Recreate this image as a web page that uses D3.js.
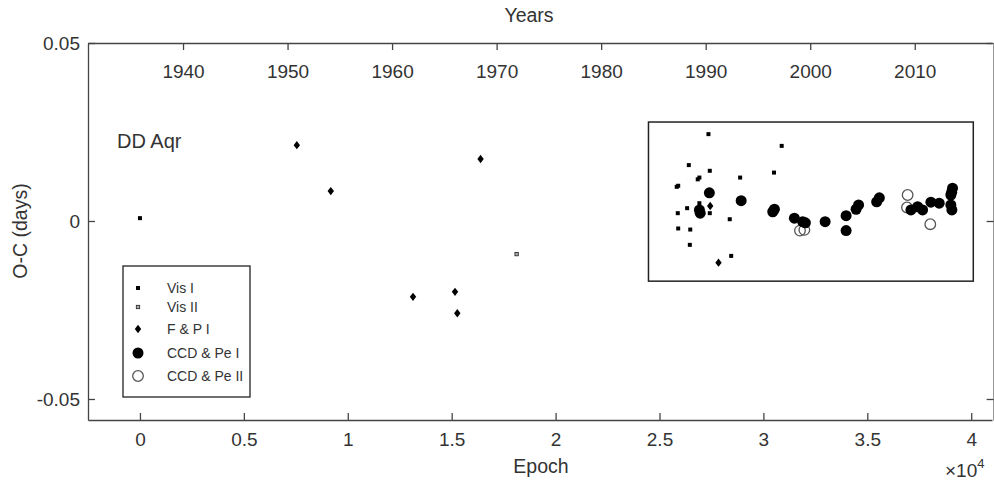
<!DOCTYPE html>
<html>
<head>
<meta charset="utf-8">
<title>DD Aqr O-C diagram</title>
<script src="https://d3js.org/d3.v7.min.js"></script>
<style>
  body { margin: 0; background: #fff; }
  svg text { font-family: "Liberation Sans", Arial, sans-serif; fill: #333; }
  .axis path, .axis line { stroke: #444; stroke-width: 1.3; }
</style>
</head>
<body>
<script>
// [epoch, O-C in days]
var visI = [
  [0, 0.0008], [27356, 0.0244], [30880, 0.0211], [26410, 0.0157], [27420, 0.0141],
  [30510, 0.0136], [28880, 0.0122], [25830, 0.0096], [25900, 0.0099], [26840, 0.0117],
  [26920, 0.0122], [26330, 0.0036], [25880, 0.0022], [26920, 0.0050], [27420, 0.0022],
  [28380, 0.0005], [25900, -0.0021], [26480, -0.0024], [26460, -0.0067], [28450, -0.0098]
]
var visII = [
  [18125, -0.0093]
]
var fpI = [
  [7548, 0.0213], [9183, 0.0084], [13140, -0.0213], [15160, -0.0199],
  [15270, -0.0259], [16390, 0.0174], [27840, -0.0117], [27440, 0.0042]
]
var ccdI = [
  [27400, 0.0079], [28930, 0.0057], [26920, 0.0031], [26960, 0.0022], [30450, 0.0026],
  [30530, 0.0033], [31490, 0.0008], [31890, -0.0002], [32020, -0.0005], [32970, -0.0002],
  [33980, 0.0015], [33980, -0.0027], [34460, 0.0033], [34580, 0.0045], [35450, 0.0054],
  [35580, 0.0065], [37100, 0.0031], [37420, 0.0040], [37660, 0.0031], [38060, 0.0053],
  [38460, 0.0050], [39020, 0.0045], [39020, 0.0073], [39100, 0.0092], [39070, 0.0031],
  [39060, 0.0081]
]
var ccdII = [
  [31760, -0.0027], [31970, -0.0025], [36940, 0.0073], [36910, 0.0038], [38030, -0.0009]
]
var epochTicks = [0, 5000, 10000, 15000, 20000, 25000, 30000, 35000, 40000]
var yearTicks = [1940, 1950, 1960, 1970, 1980, 1990, 2000, 2010]
var ocTicks = [-0.05, 0, 0.05]
var legendNames = ['Vis I', 'Vis II', 'F & P I', 'CCD & Pe I', 'CCD & Pe II']
// recent-data box, in epoch / O-C units
var boxEpoch = [24470, 40100]
var boxOC = [-0.0169, 0.0278]

var W = 994, H = 481
var plotL = 88, plotR = 992, plotT = 43, plotB = 420

var svg = d3.select('body').append('svg')
    .attr('width', W)
    .attr('height', H)

var x = d3.scaleLinear().domain([-2500, 41000]).range([plotL, plotR])
var y = d3.scaleLinear().domain([-0.0559, 0.05]).range([plotB, plotT])
var xYear = d3.scaleLinear().domain([1930.91, 2017.39]).range([plotL, plotR])

// axes
svg.append('g')
    .attr('class', 'axis')
    .attr('transform', 'translate(0,' + plotB + ')')
    .call(d3.axisBottom(x).tickValues(epochTicks)
        .tickFormat(function (d) { return String(d / 10000) })
        .tickSizeInner(-7).tickSizeOuter(0).tickPadding(13))
    .selectAll('text').style('font-size', '19px')

svg.append('g')
    .attr('class', 'axis')
    .attr('transform', 'translate(0,' + plotT + ')')
    .call(d3.axisBottom(xYear).tickValues(yearTicks)
        .tickFormat(function (d) { return String(d) })
        .tickSizeInner(7).tickSizeOuter(0).tickPadding(15))
    .selectAll('text').style('font-size', '19px')

svg.append('g')
    .attr('class', 'axis')
    .attr('transform', 'translate(' + plotL + ',0)')
    .call(d3.axisLeft(y).tickValues(ocTicks)
        .tickFormat(function (d) { return String(d) })
        .tickSizeInner(-7).tickSizeOuter(0).tickPadding(8))
    .selectAll('text').style('font-size', '19px')

// right edge axis sits right on the page border
svg.append('g')
    .attr('class', 'axis')
    .attr('transform', 'translate(' + (plotR + 1.6) + ',0)')
    .call(d3.axisRight(y).tickValues(ocTicks)
        .tickFormat('')
        .tickSizeInner(-7).tickSizeOuter(0))

// labels
svg.append('text')
    .attr('x', 529).attr('y', 22)
    .attr('text-anchor', 'middle')
    .style('font-size', '19.5px')
    .text('Years')

svg.append('text')
    .attr('x', 541).attr('y', 473)
    .attr('text-anchor', 'middle')
    .style('font-size', '19.5px')
    .text('Epoch')

var expo = svg.append('text')
    .attr('x', 945).attr('y', 477)
    .style('font-size', '19px')
expo.append('tspan').text('\u00d710')
expo.append('tspan').attr('dy', -9).style('font-size', '13px').text('4')

svg.append('text')
    .attr('transform', 'translate(27,231) rotate(-90)')
    .attr('text-anchor', 'middle')
    .style('font-size', '19.5px')
    .text('O-C (days)')

svg.append('text')
    .attr('x', 117).attr('y', 148)
    .style('font-size', '20px')
    .text('DD Aqr')

// box round the recent timings
svg.append('rect')
    .attr('x', x(boxEpoch[0]))
    .attr('y', y(boxOC[1]))
    .attr('width', x(boxEpoch[1]) - x(boxEpoch[0]))
    .attr('height', y(boxOC[0]) - y(boxOC[1]))
    .attr('fill', 'none')
    .attr('stroke', '#222')
    .attr('stroke-width', 1.5)

// marker drawers
function drawVisI(g) {
    g.append('rect').attr('x', -2).attr('y', -2).attr('width', 4).attr('height', 4).attr('fill', '#000')
}
function drawVisII(g) {
    g.append('rect').attr('x', -1.7).attr('y', -1.7).attr('width', 3.4).attr('height', 3.4)
        .attr('fill', '#aaa').attr('stroke', '#222').attr('stroke-width', 0.8)
}
function drawFP(g) {
    g.append('path').attr('d', 'M0,-4.2L3.2,0L0,4.2L-3.2,0Z').attr('fill', '#000')
}
function drawCCDI(g) {
    g.append('circle').attr('r', 5.5).attr('fill', '#000')
}
function drawCCDII(g) {
    g.append('circle').attr('r', 5.3).attr('fill', 'none').attr('stroke', '#555').attr('stroke-width', 1.3)
}
var drawers = [drawVisI, drawVisII, drawFP, drawCCDI, drawCCDII]

function plotSeries(data, draw) {
    svg.append('g').selectAll('g')
        .data(data)
        .enter()
        .append('g')
        .attr('transform', function (d) { return 'translate(' + x(d[0]) + ',' + y(d[1]) + ')' })
        .each(function () { draw(d3.select(this)) })
}
plotSeries(visI, drawVisI)
plotSeries(visII, drawVisII)
plotSeries(fpI, drawFP)
plotSeries(ccdII, drawCCDII)
plotSeries(ccdI, drawCCDI)

// legend
var legend = svg.append('g').attr('transform', 'translate(123,266)')
legend.append('rect')
    .attr('width', 127).attr('height', 131)
    .attr('fill', '#fff').attr('stroke', '#222').attr('stroke-width', 1.3)
var rowY = [22, 41, 63, 87, 110]
legendNames.forEach(function (name, i) {
    var g = legend.append('g').attr('transform', 'translate(15,' + rowY[i] + ')')
    drawers[i](g)
    legend.append('text')
        .attr('x', 44).attr('y', rowY[i] + 5)
        .style('font-size', '14px')
        .text(name)
})
</script>
</body>
</html>
